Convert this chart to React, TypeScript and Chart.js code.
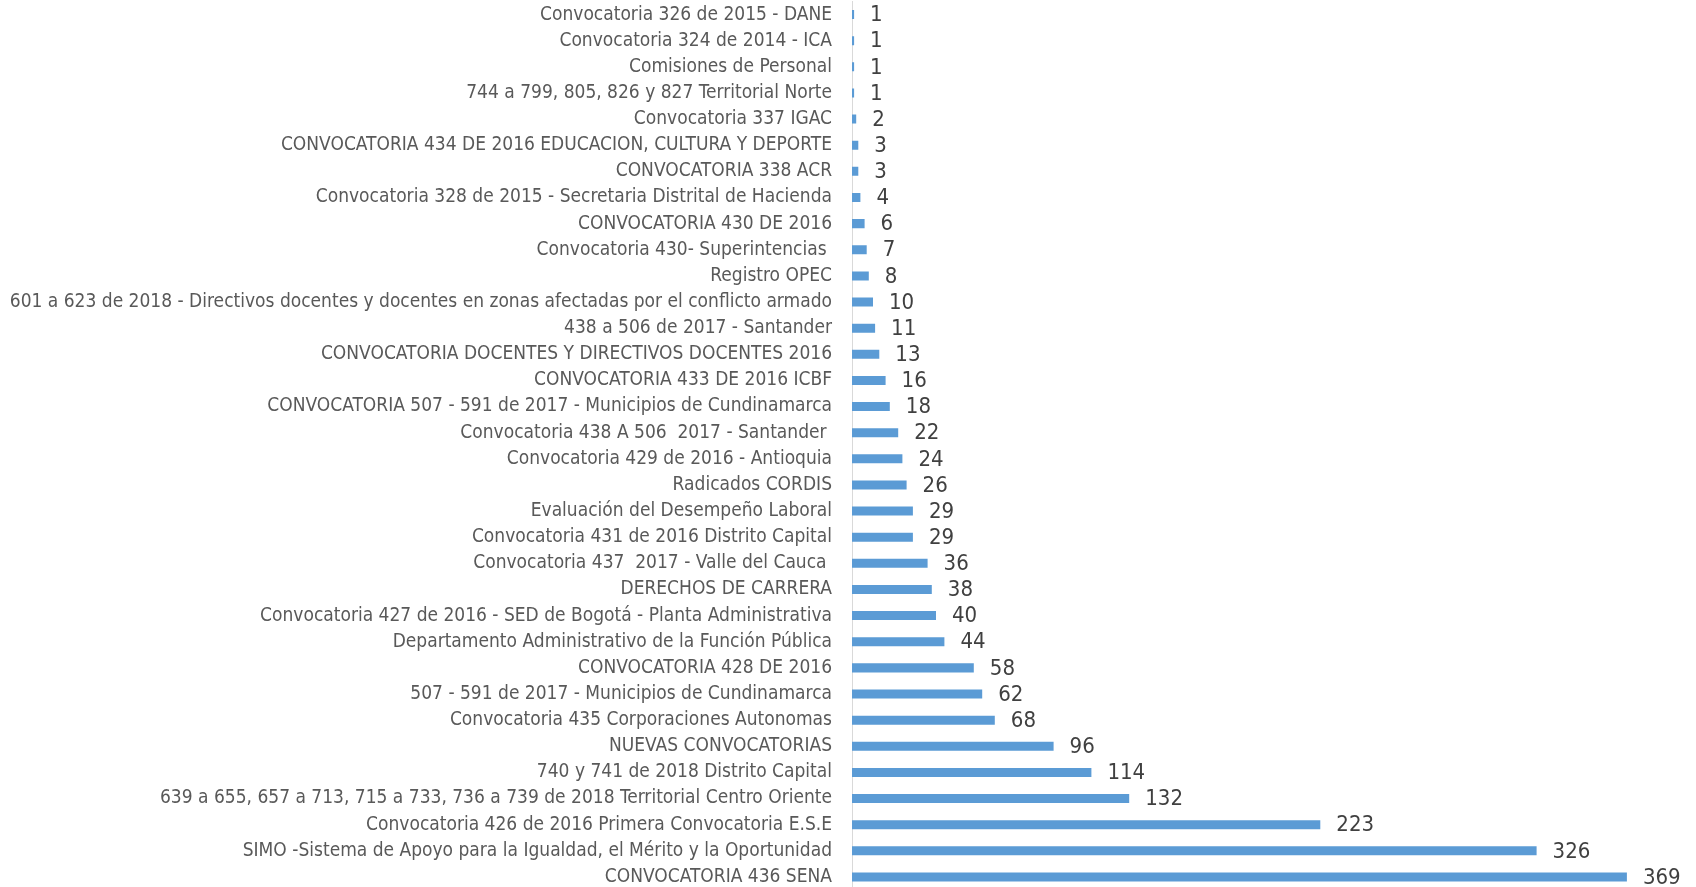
import React, { useEffect, useRef } from "react";
import { Chart, registerables } from "chart.js";

Chart.register(...registerables);

const categories: string[] = [
  "Convocatoria 326 de 2015 - DANE",
  "Convocatoria 324 de 2014 - ICA",
  "Comisiones de Personal",
  "744 a 799, 805, 826 y 827 Territorial Norte",
  "Convocatoria 337 IGAC",
  "CONVOCATORIA 434 DE 2016 EDUCACION, CULTURA Y DEPORTE",
  "CONVOCATORIA 338 ACR",
  "Convocatoria 328 de 2015 - Secretaria Distrital de Hacienda",
  "CONVOCATORIA 430 DE 2016",
  "Convocatoria 430- Superintencias ",
  "Registro OPEC",
  "601 a 623 de 2018 - Directivos docentes y docentes en zonas afectadas por el conflicto armado",
  "438 a 506 de 2017 - Santander",
  "CONVOCATORIA DOCENTES Y DIRECTIVOS DOCENTES 2016",
  "CONVOCATORIA 433 DE 2016 ICBF",
  "CONVOCATORIA 507 - 591 de 2017 - Municipios de Cundinamarca",
  "Convocatoria 438 A 506  2017 - Santander ",
  "Convocatoria 429 de 2016 - Antioquia",
  "Radicados CORDIS",
  "Evaluación del Desempeño Laboral",
  "Convocatoria 431 de 2016 Distrito Capital",
  "Convocatoria 437  2017 - Valle del Cauca ",
  "DERECHOS DE CARRERA",
  "Convocatoria 427 de 2016 - SED de Bogotá - Planta Administrativa",
  "Departamento Administrativo de la Función Pública",
  "CONVOCATORIA 428 DE 2016",
  "507 - 591 de 2017 - Municipios de Cundinamarca",
  "Convocatoria 435 Corporaciones Autonomas",
  "NUEVAS CONVOCATORIAS",
  "740 y 741 de 2018 Distrito Capital",
  "639 a 655, 657 a 713, 715 a 733, 736 a 739 de 2018 Territorial Centro Oriente",
  "Convocatoria 426 de 2016 Primera Convocatoria E.S.E",
  "SIMO -Sistema de Apoyo para la Igualdad, el Mérito y la Oportunidad",
  "CONVOCATORIA 436 SENA",
];

const values: number[] = [
  1, 1, 1, 1, 2, 3, 3, 4, 6, 7, 8, 10, 11, 13, 16, 18, 22, 24, 26, 29, 29, 36,
  38, 40, 44, 58, 62, 68, 96, 114, 132, 223, 326, 369,
];

const xMin = 0;
const xMax = 400;

const LABEL_FONT = "'Liberation Sans Narrow', 'Arial Narrow', 'DejaVu Sans Condensed', sans-serif";

const valueLabels = {
  id: "valueLabels",
  afterDatasetsDraw(chart: any) {
    const ctx = chart.ctx;
    const meta = chart.getDatasetMeta(0);
    const data = chart.data.datasets[0].data as number[];
    ctx.save();
    ctx.font = `22px ${LABEL_FONT}`;
    ctx.fillStyle = "#404040";
    ctx.textAlign = "left";
    ctx.textBaseline = "middle";
    meta.data.forEach((bar: any, i: number) => {
      ctx.fillText(String(data[i]), bar.x + 16, bar.y + 1);
    });
    ctx.restore();
  },
};

export default function App() {
  const canvasRef = useRef<HTMLCanvasElement | null>(null);

  useEffect(() => {
    document.body.style.margin = "0";
    document.body.style.overflow = "hidden";
    const canvas = canvasRef.current;
    if (!canvas) return;
    const chart = new Chart(canvas, {
      type: "bar",
      data: {
        labels: categories,
        datasets: [
          {
            data: values,
            backgroundColor: "#5B9BD5",
            borderWidth: 0,
            barPercentage: 1,
            categoryPercentage: 0.345,
          },
        ],
      },
      options: {
        indexAxis: "y",
        animation: false,
        responsive: false,
        maintainAspectRatio: false,
        layout: { padding: { top: 1.5, bottom: 1, left: 0, right: 4 } },
        plugins: {
          legend: { display: false },
          tooltip: { enabled: false },
          title: { display: false },
        },
        scales: {
          x: {
            display: false,
            min: xMin,
            max: xMax,
          },
          y: {
            grid: {
              display: true,
              color: "rgba(0,0,0,0)",
              drawTicks: true,
              tickLength: 20,
            },
            border: { display: true, color: "#D9D9D9", width: 1 },
            ticks: {
              autoSkip: false,
              padding: 0,
              color: "#595959",
              font: { family: LABEL_FONT, size: 19, lineHeight: 0.1 },
            },
            afterFit: (scale: any) => {
              scale.width = 852;
            },
          },
        },
      },
      plugins: [valueLabels],
    });
    return () => chart.destroy();
  }, []);

  return (
    <div style={{ position: "absolute", left: 0, top: 0, width: 1696, height: 891, overflow: "hidden" }}>
      <canvas ref={canvasRef} width={1696} height={891} style={{ display: "block" }} />
    </div>
  );
}
